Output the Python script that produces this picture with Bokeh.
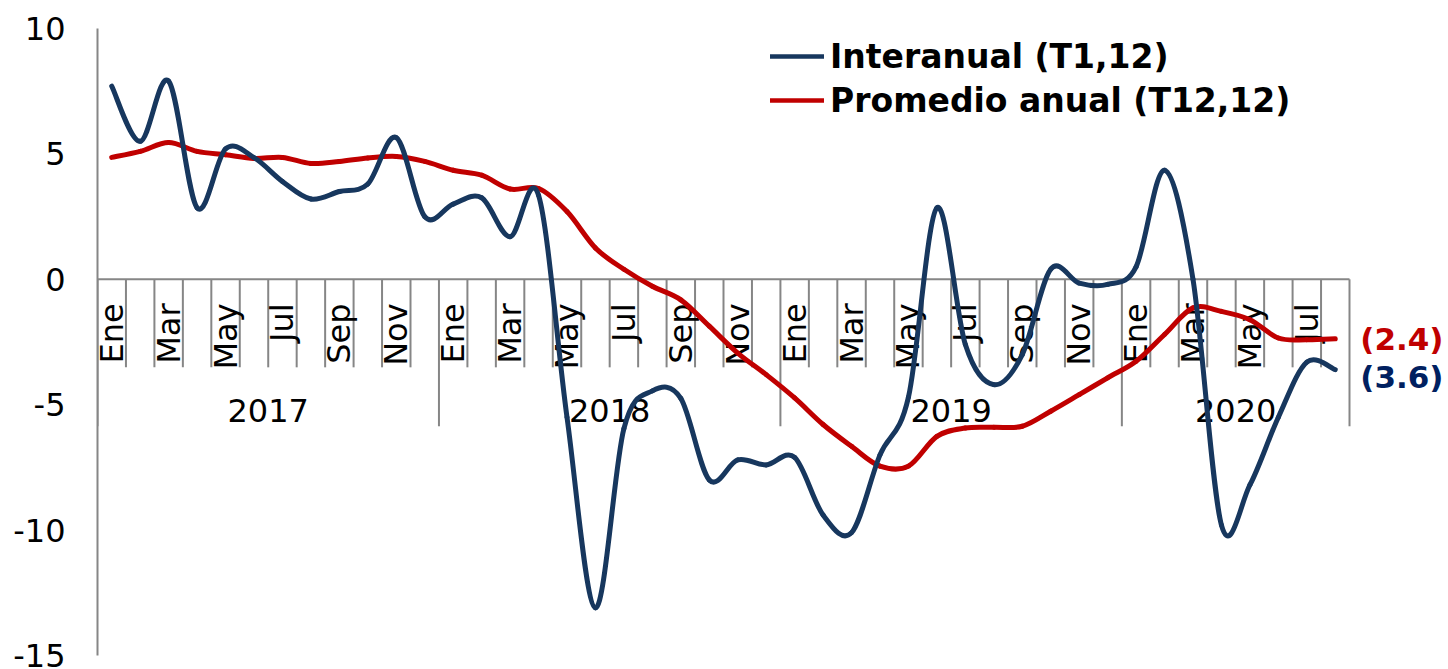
import math
import numpy as np
from bokeh.plotting import figure
from bokeh.models import (ColumnDataSource, Range1d, Legend, LegendItem,
                          FixedTicker)
from bokeh.core.properties import value
from bokeh.embed import file_html
from bokeh.resources import INLINE

# ---------------- data ----------------
years = ["2017", "2018", "2019", "2020"]
months_per_year = [12, 12, 12, 8]
month_names = ["Ene", "Feb", "Mar", "Abr", "May", "Jun",
               "Jul", "Ago", "Sep", "Oct", "Nov", "Dic"]
shown_months = ["Ene", "Mar", "May", "Jul", "Sep", "Nov"]

interanual = [7.7, 5.5, 7.9, 2.85, 5.2, 4.85, 3.9, 3.2, 3.5, 3.8,
              5.65, 2.5, 3.0, 3.25, 1.7, 3.35, -5.5, -13.1, -5.95, -4.45,
              -4.75, -8.0, -7.2, -7.4, -7.1, -9.4, -10.1, -7.0, -4.7, 2.85,
              -2.6, -4.2, -3.0, 0.4, -0.15, -0.2, 0.5, 4.35, 0.0, -9.8,
              -8.2, -5.5, -3.3, -3.6]
promedio = [4.86, 5.1, 5.45, 5.1, 4.97, 4.82, 4.86, 4.62, 4.7, 4.84,
            4.9, 4.7, 4.35, 4.15, 3.6, 3.62, 2.7, 1.25, 0.4, -0.28,
            -0.82, -1.87, -2.94, -3.8, -4.73, -5.79, -6.66, -7.45, -7.45, -6.26,
            -5.93, -5.9, -5.86, -5.26, -4.6, -3.93, -3.27, -2.2, -1.14, -1.28,
            -1.61, -2.34, -2.41, -2.37]
series_names = ["Interanual (T1,12)", "Promedio anual (T12,12)"]
end_labels = ["(3.6)", "(2.4)"]
y_ticks = [-15, -10, -5, 0, 5, 10]

# ---------------- styling ----------------
BLUE = "#17375E"
RED = "#C00000"
LABEL_BLUE = "#002060"
GRAY = "#868686"
FONT = "DejaVu Sans"
FS = "32px"

W, H = 1448, 669
LEFT, TOP, BOTTOM = 97, 28, 14
n = len(interanual)
cat_px = 1252 / n
x_end = -0.5 + (W - LEFT) / cat_px

p = figure(width=W, height=H, output_backend="svg", toolbar_location=None,
           x_range=Range1d(-0.5, x_end), y_range=Range1d(-15, 10),
           x_axis_location=None, min_border_left=LEFT, min_border_right=0,
           min_border_top=TOP, min_border_bottom=BOTTOM)
p.outline_line_color = None
p.xgrid.visible = False
p.ygrid.visible = False
p.background_fill_color = "white"
p.border_fill_color = "white"

ya = p.yaxis[0]
ya.ticker = FixedTicker(ticks=y_ticks)
ya.major_label_overrides = {t: str(t) for t in y_ticks}
ya.major_tick_line_color = None
ya.minor_tick_line_color = None
ya.major_tick_out = 0
ya.major_tick_in = 0
ya.axis_line_color = GRAY
ya.axis_line_width = 2
ya.major_label_standoff = 32
ya.major_label_text_font = FONT
ya.major_label_text_font_size = FS
ya.major_label_text_color = "black"

# ---------------- category axis drawn at y = 0 ----------------
xs = list(range(n))
p.segment(x0=[-0.5], y0=[0], x1=[n - 0.5], y1=[0], line_color=GRAY, line_width=2)

bounds = [-0.5]
for m in months_per_year:
    bounds.append(bounds[-1] + m)
year_bounds = set(bounds)
tick_x = [b + 0.5 for b in range(-1, n)]
short_x = [t for t in tick_x if t not in year_bounds]
p.segment(x0=short_x, y0=[0] * len(short_x), x1=short_x, y1=[-3.51] * len(short_x),
          line_color=GRAY, line_width=2)
p.segment(x0=bounds, y0=[0] * len(bounds), x1=bounds, y1=[-5.86] * len(bounds),
          line_color=GRAY, line_width=2)

lab_x, lab_t = [], []
for i in xs:
    name = month_names[i % 12]
    if name in shown_months:
        lab_x.append(i)
        lab_t.append(name)
p.text(x=lab_x, y=[-0.96] * len(lab_x), text=lab_t, angle=math.pi / 2,
       text_align="right", text_baseline="middle",
       text_font=value(FONT), text_font_size=value(FS), text_color="black")

year_x = [(bounds[k] + bounds[k + 1]) / 2 for k in range(len(years))]
p.text(x=year_x, y=[-5.22] * len(years), text=years,
       text_align="center", text_baseline="middle",
       text_font=value(FONT), text_font_size=value(FS), text_color="black")


# ---------------- smooth lines (Bezier through the data points) ----------------
def bezier_source(vals):
    m = len(vals)
    d = dict(x0=[], y0=[], x1=[], y1=[], cx0=[], cy0=[], cx1=[], cy1=[])
    for i in range(m - 1):
        ip = max(i - 1, 0)
        inn = min(i + 2, m - 1)
        d["x0"].append(i)
        d["y0"].append(vals[i])
        d["x1"].append(i + 1)
        d["y1"].append(vals[i + 1])
        d["cx0"].append(i + (i + 1 - ip) / 6)
        d["cy0"].append(vals[i] + (vals[i + 1] - vals[ip]) / 6)
        d["cx1"].append(i + 1 - (inn - i) / 6)
        d["cy1"].append(vals[i + 1] - (vals[inn] - vals[i]) / 6)
    return ColumnDataSource(d)


LW = 5
p.bezier(x0="x0", y0="y0", x1="x1", y1="y1", cx0="cx0", cy0="cy0",
         cx1="cx1", cy1="cy1", source=bezier_source(promedio),
         line_color=RED, line_width=LW, line_cap="round")
p.bezier(x0="x0", y0="y0", x1="x1", y1="y1", cx0="cx0", cy0="cy0",
         cx1="cx1", cy1="cy1", source=bezier_source(interanual),
         line_color=BLUE, line_width=LW, line_cap="round")

# end labels
EFS = "31px"
p.text(x=[n - 1], y=[interanual[-1]], text=[end_labels[0]], x_offset=25, y_offset=7,
       text_align="left", text_baseline="middle", text_font=value(FONT),
       text_font_size=value(EFS), text_font_style="bold", text_color=LABEL_BLUE)
p.text(x=[n - 1], y=[promedio[-1]], text=[end_labels[1]], x_offset=25, y_offset=0,
       text_align="left", text_baseline="middle", text_font=value(FONT),
       text_font_size=value(EFS), text_font_style="bold", text_color=RED)

# legend (proxy renderers that draw nothing in the plot)
nan2 = np.array([np.nan, np.nan])
lr1 = p.line(x=nan2, y=nan2, line_color=BLUE, line_width=4.5, line_cap="round")
lr2 = p.line(x=nan2, y=nan2, line_color=RED, line_width=4.5, line_cap="round")
legend = Legend(items=[LegendItem(label=series_names[0], renderers=[lr1]),
                       LegendItem(label=series_names[1], renderers=[lr2])],
                location=(673, 533), orientation="vertical",
                glyph_width=54, glyph_height=44, label_height=44,
                label_standoff=6, spacing=0, padding=0, margin=0,
                background_fill_alpha=0, border_line_color=None,
                label_text_font=FONT, label_text_font_size="33px",
                label_text_font_style="bold", label_text_color="black",
                label_text_baseline="middle")
p.add_layout(legend)

open("out.html", "w").write(file_html(p, INLINE))
